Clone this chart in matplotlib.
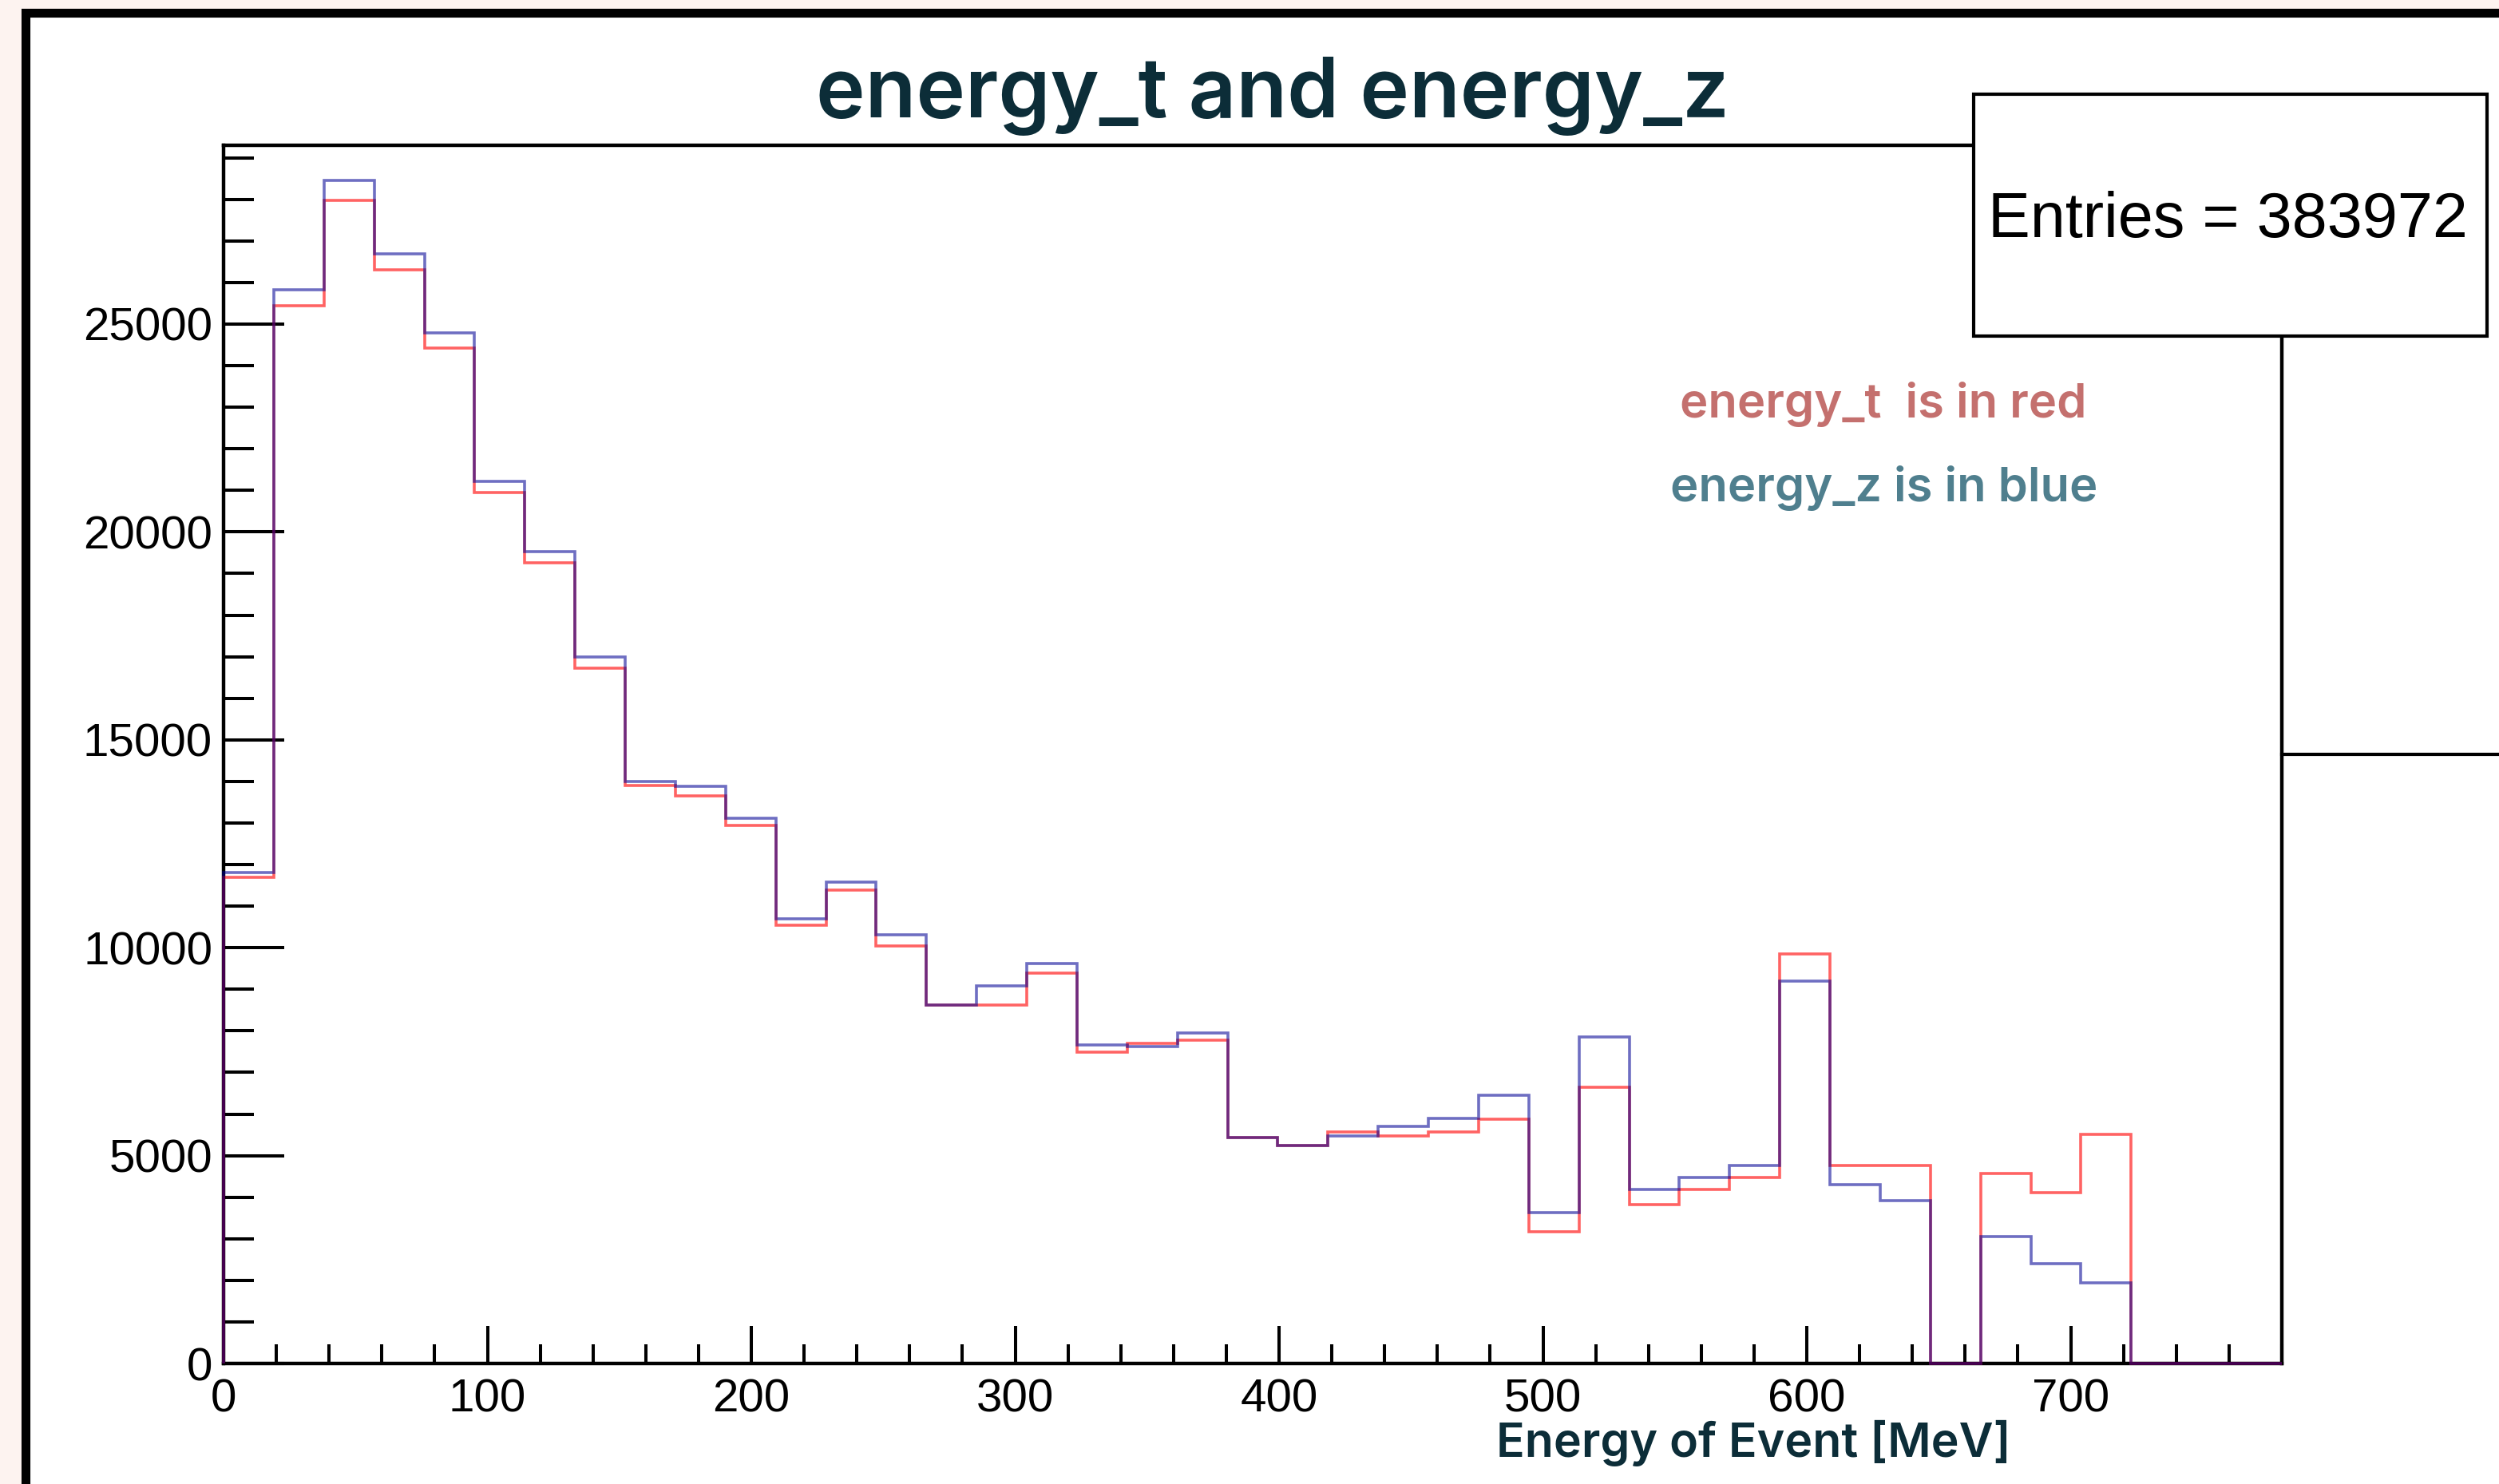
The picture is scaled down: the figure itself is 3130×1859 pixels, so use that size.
import matplotlib.pyplot as plt
import numpy as np
from matplotlib.lines import Line2D
from matplotlib.patches import Rectangle
from matplotlib.ticker import FixedLocator, MultipleLocator

W, H = 3130, 1859
DPI = 100

# 41 bins of ~19 MeV between 0 and 780 MeV
N_BINS = 41
X_MAX = 780
Y_MAX = 29300

energy_t = [
    11700, 25450, 27980, 26300, 24420, 20950, 19260, 16720, 13900, 13650,
    12950, 10540, 11390, 10040, 8620, 8620, 9390, 7480, 7700, 7780,
    5440, 5250, 5560, 5480, 5560, 5880, 3160, 6650, 3830, 4190,
    4480, 9850, 4760, 4760, 0, 4570, 4110, 5520, 0, 0, 0,
]
energy_z = [
    11800, 25820, 28450, 26680, 24780, 21220, 19530, 17000, 14000, 13880,
    13120, 10700, 11580, 10310, 8620, 9080, 9620, 7670, 7630, 7940,
    5440, 5250, 5480, 5710, 5900, 6450, 3630, 7860, 4190, 4480,
    4760, 9190, 4300, 3910, 0, 3060, 2400, 1940, 0, 0, 0,
]

title_text = "energy_t and energy_z"
xlabel_text = "Energy of Event [MeV]"
stats_text = "Entries = 383972"
red_note = "energy_t  is in red"
blue_note = "energy_z is in blue"

TEXT_DARK = "#0c2d38"
NOTE_RED = "#c4706e"
NOTE_BLUE = "#4f7f8e"
BG_PINK = "#fdf3f0"


def fx(px):
    return px / W


def fy(py):
    return 1 - py / H


fig = plt.figure(figsize=(W / DPI, H / DPI), dpi=DPI, facecolor=BG_PINK)

# outer white panel with thick black border on left and top
fig.patches.append(
    Rectangle(
        (fx(32), -0.05), 1.2, fy(15.5) + 0.05,
        transform=fig.transFigure, facecolor="white",
        edgecolor="black", linewidth=8, zorder=-1,
    )
)

ax = fig.add_axes([fx(280), fy(1708), fx(2858) - fx(280), fy(182) - fy(1708)])
edges = np.linspace(0, X_MAX, N_BINS + 1)

ax.stairs(energy_t, edges, baseline=0, color=(1, 0, 0), alpha=0.61,
          linewidth=2.6, zorder=3, clip_on=False)
ax.stairs(energy_z, edges, baseline=0, color=(0, 0, 0.58), alpha=0.57,
          linewidth=2.6, zorder=3, clip_on=False)

ax.set_xlim(0, X_MAX)
ax.set_ylim(0, Y_MAX)

ax.xaxis.set_major_locator(FixedLocator(np.arange(0, 701, 100)))
ax.xaxis.set_minor_locator(MultipleLocator(20))
ax.yaxis.set_major_locator(FixedLocator(np.arange(0, 25001, 5000)))
ax.yaxis.set_minor_locator(MultipleLocator(1000))

for side in ["left", "bottom", "top", "right"]:
    ax.spines[side].set_linewidth(3.2)

ax.tick_params(which="both", direction="in", width=2.9, color="black")
ax.tick_params(axis="y", which="major", length=55, pad=10)
ax.tick_params(axis="y", which="minor", length=27)
ax.tick_params(axis="x", which="major", length=34, pad=13)
ax.tick_params(axis="x", which="minor", length=17)

for lab in ax.get_xticklabels() + ax.get_yticklabels():
    lab.set_fontfamily(["Liberation Sans", "DejaVu Sans"])
    lab.set_fontsize(42)

# stats box, drawn above the axes frame
fig.patches.append(
    Rectangle(
        (fx(2472), fy(421)), fx(3115) - fx(2472), fy(118) - fy(421),
        transform=fig.transFigure, facecolor="white",
        edgecolor="black", linewidth=3, zorder=5,
    )
)
fig.text(fx(2790), fy(276), stats_text, ha="center", va="center",
         fontsize=57, family=["Liberation Sans", "DejaVu Sans"], zorder=6)

# leftover frame line of a neighbouring pad
fig.lines.append(
    Line2D([fx(2858), 1.0], [fy(945), fy(945)], transform=fig.transFigure,
           color="black", linewidth=3, zorder=5)
)

fig.text(fx(1594), fy(147), title_text, ha="center", va="baseline",
         fontsize=75, fontweight="semibold", color=TEXT_DARK,
         family=["Inter", "DejaVu Sans"])

fig.text(fx(2359), fy(523), red_note, ha="center", va="baseline",
         fontsize=43, fontweight="semibold", color=NOTE_RED,
         family=["Inter", "DejaVu Sans"])
fig.text(fx(2360), fy(628), blue_note, ha="center", va="baseline",
         fontsize=43, fontweight="semibold", color=NOTE_BLUE,
         family=["Inter", "DejaVu Sans"])

fig.text(fx(2196), fy(1825), xlabel_text, ha="center", va="baseline",
         fontsize=42.5, fontweight="semibold", color=TEXT_DARK,
         family=["Inter", "DejaVu Sans"])

fig.savefig("out.png", dpi=DPI, facecolor=BG_PINK)
